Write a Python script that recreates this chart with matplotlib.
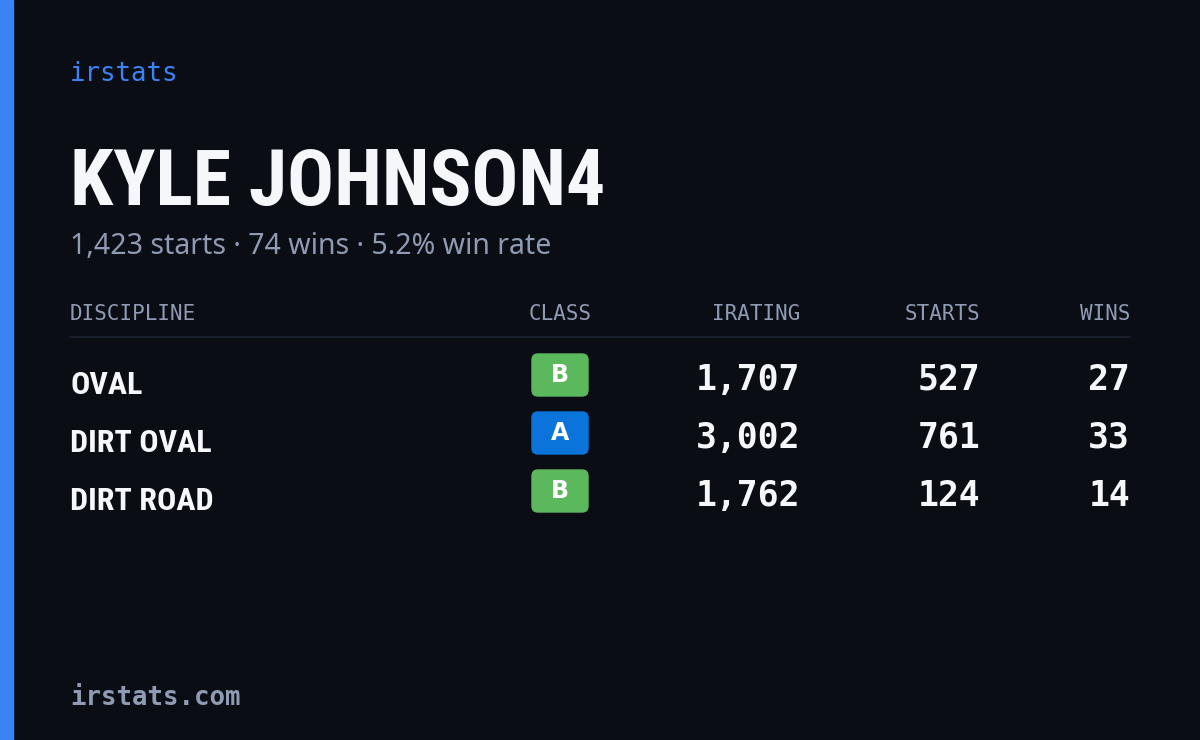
import matplotlib
matplotlib.use("Agg")
import matplotlib.pyplot as plt
from matplotlib.patches import FancyBboxPatch, Rectangle

player = "KYLE JOHNSON4"
summary = "1,423 starts · 74 wins · 5.2% win rate"
columns = ["DISCIPLINE", "CLASS", "IRATING", "STARTS", "WINS"]
disciplines = ["OVAL", "DIRT OVAL", "DIRT ROAD"]
classes = ["B", "A", "B"]
iratings = ["1,707", "3,002", "1,762"]
starts = ["527", "761", "124"]
wins = ["27", "33", "14"]
class_colors = {"A": "#0a74da", "B": "#5cb85c"}

bg = "#0a0d14"
muted = "#8f9bb3"
cond = ["Liberation Sans Narrow", "Roboto Condensed", "DejaVu Sans"]
mono = ["DejaVu Sans Mono"]

fig = plt.figure(figsize=(12, 7.4), dpi=100, facecolor=bg)
ax = fig.add_axes([0, 0, 1, 1])
ax.set_xlim(0, 1200)
ax.set_ylim(740, 0)
ax.axis("off")
ax.set_facecolor(bg)

ax.add_patch(Rectangle((0, 0), 13, 740, color="#3b82f6"))

ax.text(70, 74, "irstats", color="#3b82f6", fontsize=18.5, family=mono, va="center")
ax.text(70, 184, player, color="#f5f7fb", fontsize=56, family=cond,
        weight="bold", va="center")
ax.text(70, 246, summary, color=muted, fontsize=20.5, family=["Noto Sans"], va="center")

col_x = [70, 560, 800, 980, 1130]
aligns = ["left", "center", "right", "right", "right"]
for name, x, ha in zip(columns, col_x, aligns):
    ax.text(x, 314, name, color=muted, fontsize=15, family=mono, ha=ha,
            va="center")
ax.plot([70, 1130], [337, 337], color="#1c2230", lw=1.2)

for i, d in enumerate(disciplines):
    y = 380 + i * 58
    ax.text(70, y + 5, d, color="#f5f7fb", fontsize=23, family=cond,
            weight="bold", va="center")
    ax.add_patch(FancyBboxPatch((532, y - 26), 56, 42,
                                boxstyle="round,pad=0,rounding_size=6",
                                color=class_colors[classes[i]]))
    ax.text(560, y - 5, classes[i], color="white", fontsize=17, weight="bold",
            family=["DejaVu Sans"], ha="center", va="center")
    for val, x in zip([iratings[i], starts[i], wins[i]], col_x[2:]):
        ax.text(x, y, val, color="#f5f7fb", fontsize=25, family=mono,
                ha="right", va="center", weight="bold")

ax.text(70, 698, "irstats.com", color=muted, fontsize=18.5, family=mono,
        va="center", weight="bold")

fig.savefig("out.png", dpi=100, facecolor=bg)
